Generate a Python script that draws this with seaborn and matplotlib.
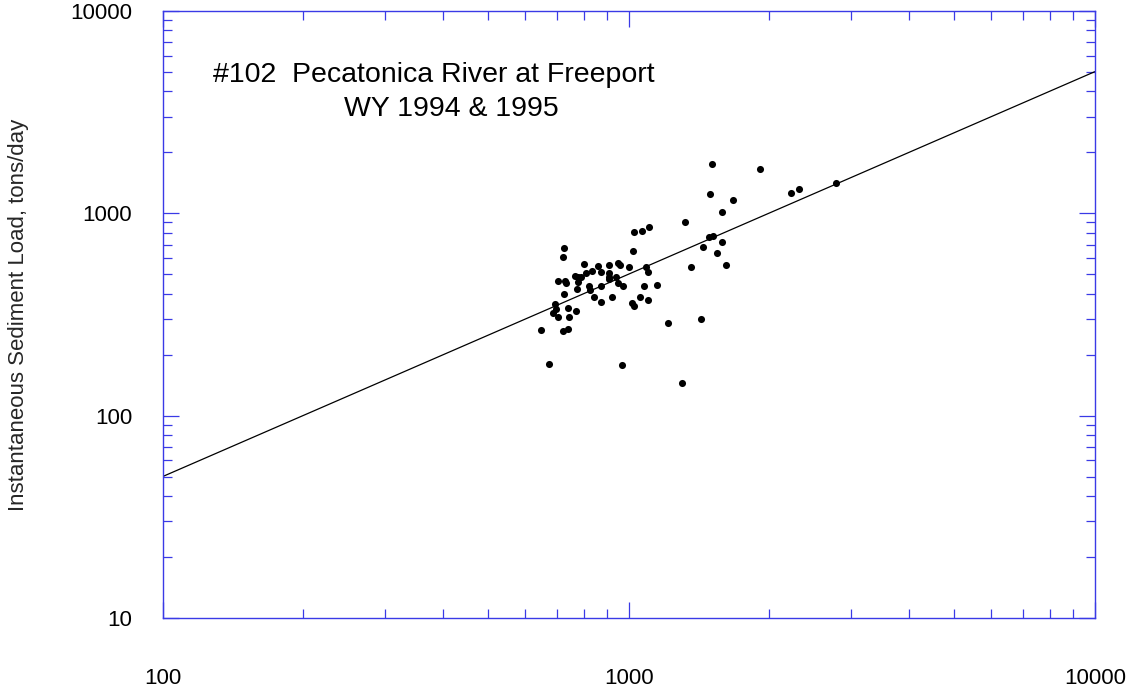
import matplotlib
matplotlib.use("Agg")
import matplotlib.pyplot as plt
import matplotlib.ticker as mticker
import seaborn as sns
import pandas as pd
import numpy as np

# Observed streamflow (cfs) and instantaneous sediment load (tons/day)
flow = [727, 722, 1023, 802, 858, 907, 947, 958, 1001, 1088,
        1102, 833, 810, 872, 906, 906, 908, 939, 767, 780,
        789, 780, 704, 730, 732, 950, 974, 872, 823, 826,
        776, 726, 1080, 1148, 841, 919, 872, 1057, 1102, 1018,
        1025, 695, 697, 687, 741, 772, 706, 743, 648, 722,
        740, 1216, 1362, 675, 969, 1303, 1507, 1916, 1496, 1676,
        2230, 2316, 2785, 1588, 1319, 1489, 1517, 1585, 1446, 1549,
        1617, 1431, 1025, 1070, 1105]
load = [671, 605, 653, 561, 550, 555, 569, 555, 542, 542,
        514, 518, 508, 511, 505, 486, 473, 486, 489, 482,
        486, 459, 464, 461, 450, 450, 438, 435, 438, 418,
        421, 400, 437, 444, 387, 385, 363, 384, 371, 359,
        348, 355, 335, 320, 340, 330, 307, 306, 266, 262,
        267, 287, 544, 180, 177, 145, 1750, 1654, 1240, 1166,
        1263, 1317, 1410, 1010, 905, 766, 772, 718, 678, 638,
        557, 300, 810, 815, 850]

# Rating-curve fit line endpoints
fit_flow = [100, 10000]
fit_load = [50, 5000]

x_ticks = [100, 1000, 10000]
y_ticks = [10, 100, 1000, 10000]
title_line1 = "#102  Pecatonica River at Freeport"
title_line2 = "WY 1994 & 1995"
y_label = "Instantaneous Sediment Load, tons/day"

sns.set_style("white")
plt.rcParams['font.family'] = ['Liberation Sans', 'DejaVu Sans']

fig = plt.figure(figsize=(11.38, 6.94), dpi=100)
ax = fig.add_axes([0.143, 0.1095, 0.819, 0.875])

df = pd.DataFrame({"flow": flow, "load": load})
fit = pd.DataFrame({"flow": fit_flow, "load": fit_load})

sns.lineplot(data=fit, x="flow", y="load", ax=ax, color="black", linewidth=0.9)
sns.scatterplot(data=df, x="flow", y="load", ax=ax, color="black", s=26,
                linewidth=0, zorder=3)

ax.set_xscale("log")
ax.set_yscale("log")
ax.set_xlim(100, 10000)
ax.set_ylim(10, 10000)

ax.set_xticks(x_ticks)
ax.set_yticks(y_ticks)
ax.xaxis.set_major_formatter(mticker.FixedFormatter([str(v) for v in x_ticks]))
ax.yaxis.set_major_formatter(mticker.FixedFormatter([str(v) for v in y_ticks]))
ax.xaxis.set_minor_locator(mticker.LogLocator(base=10, subs=np.arange(2, 10)))
ax.yaxis.set_minor_locator(mticker.LogLocator(base=10, subs=np.arange(2, 10)))
ax.xaxis.set_minor_formatter(mticker.NullFormatter())
ax.yaxis.set_minor_formatter(mticker.NullFormatter())

blue = "#3a3ae6"
for s in ax.spines.values():
    s.set_color(blue)
    s.set_linewidth(1.0)
    s.set_visible(True)

ax.tick_params(which="both", direction="in", top=True, right=True,
               bottom=True, left=True, color=blue, width=0.9)
ax.tick_params(which="major", length=11.5, labelsize=16, labelcolor="black")
ax.tick_params(which="minor", length=6.5)
ax.tick_params(axis="x", which="major", pad=36)
ax.tick_params(axis="y", which="major", pad=22)

ax.set_xlabel("")
ax.set_ylabel(y_label, fontsize=16, labelpad=30)

ax.text(0.054, 0.8826, title_line1, transform=ax.transAxes, fontsize=20.5,
        ha="left", va="baseline", color="black")
ax.text(0.1945, 0.8266, title_line2, transform=ax.transAxes, fontsize=20.5,
        ha="left", va="baseline", color="black")

fig.savefig("out.png", dpi=100)
